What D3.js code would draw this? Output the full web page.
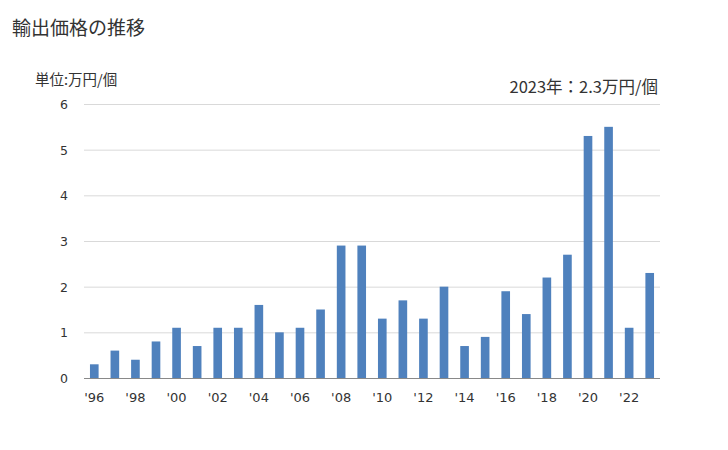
<!DOCTYPE html>
<html><head><meta charset="utf-8">
<script src="https://cdn.jsdelivr.net/npm/d3@7"></script>
<style>body{margin:0;background:#fff}</style>
</head><body>
<svg id="c" width="728" height="450"></svg>
<script>
const years = d3.range(1996, 2024);
const values = [0.3,0.6,0.4,0.8,1.1,0.7,1.1,1.1,1.6,1.0,1.1,1.5,2.9,2.9,1.3,1.7,1.3,2.0,0.7,0.9,1.9,1.4,2.2,2.7,5.3,5.5,1.1,2.3];
const yTicks = [0,1,2,3,4,5,6];
const title = "輸出価格の推移";
const unitLabel = "単位:万円/個";
const note = "2023年：2.3万円/個";

const svg = d3.select("#c");
const jp = "'Noto Sans CJK JP', sans-serif";
const num = "'DejaVu Sans', Verdana, sans-serif";
const m = {l:84, r:660, t:104, b:378};
const x = d3.scaleBand().domain(years).range([m.l, m.r]).paddingInner(0.58).paddingOuter(0.29);
const y = d3.scaleLinear().domain([0,6]).range([m.b, m.t]);

svg.append("text").attr("x",12).attr("y",35).attr("font-family",jp).attr("font-size",19).attr("fill","#333").text(title);
svg.append("text").attr("x",35).attr("y",85).attr("font-family",jp).attr("font-size",14.5).attr("fill","#333").text(unitLabel);
svg.append("text").attr("x",658).attr("y",93).attr("text-anchor","end").attr("font-family",jp).attr("font-size",16.5).attr("fill","#333").text(note);

svg.append("g").selectAll("line").data(yTicks.filter(d=>d>0)).join("line")
  .attr("x1",m.l).attr("x2",m.r).attr("y1",d=>y(d)+0.5).attr("y2",d=>y(d)+0.5)
  .attr("stroke","#d9d9d9");
svg.append("g").selectAll("text").data(yTicks).join("text")
  .attr("x",68).attr("y",d=>y(d)+5).attr("text-anchor","end")
  .attr("font-family",num).attr("font-size",12.5).attr("fill","#333").text(d=>d);

svg.append("g").selectAll("rect").data(values).join("rect")
  .attr("x",(d,i)=>x(years[i])).attr("width",x.bandwidth())
  .attr("y",d=>y(d)).attr("height",d=>y(0)-y(d)).attr("fill","#4f81bd");

svg.append("line").attr("x1",m.l).attr("x2",m.r).attr("y1",m.b+0.5).attr("y2",m.b+0.5).attr("stroke","#898989");

svg.append("g").selectAll("text").data(years.filter(d=>d%2===0)).join("text")
  .attr("x",d=>x(d)+x.bandwidth()/2).attr("y",402).attr("text-anchor","middle")
  .attr("font-family",num).attr("font-size",13).attr("fill","#333")
  .text(d=>"'"+String(d%100).padStart(2,"0"));
</script>
</body></html>
